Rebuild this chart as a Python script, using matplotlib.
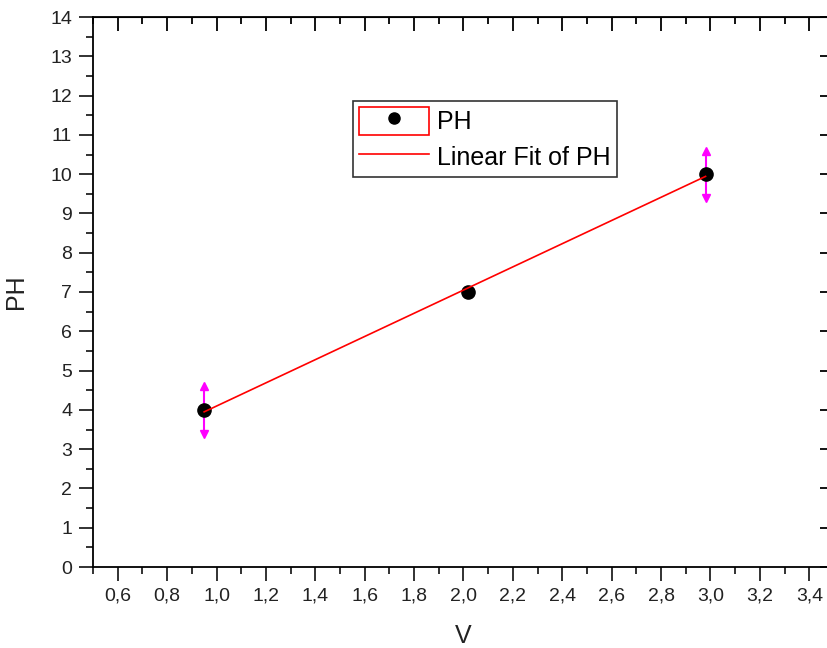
import numpy as np
import matplotlib.pyplot as plt
from matplotlib.ticker import MultipleLocator, FuncFormatter
from matplotlib.patches import Rectangle
from matplotlib.lines import Line2D
from matplotlib.legend_handler import HandlerTuple

plt.rcParams['font.family'] = ['Liberation Sans', 'DejaVu Sans']

# data
v = np.array([0.95, 2.02, 2.98])
ph = np.array([4.0, 7.0, 10.0])
ph_err = np.array([0.62, 0.0, 0.6])

fig = plt.figure(figsize=(8.27, 6.48), dpi=100)
ax = fig.add_axes([93/827, 1 - 567/648, 741/827, 550/648])

# error bars with arrow heads (Origin style)
ax.errorbar(v, ph, yerr=ph_err, fmt='none', ecolor='#ff00ff', elinewidth=1.5,
            capsize=0, zorder=2)
has_err = ph_err > 0
ax.plot(v[has_err], (ph + ph_err)[has_err], '^', color='#ff00ff', ms=6, zorder=2)
ax.plot(v[has_err], (ph - ph_err)[has_err], 'v', color='#ff00ff', ms=6, zorder=2)

ax.plot(v, ph, 'o', color='black', ms=9.5, zorder=3)

# linear fit
k, b = np.polyfit(v, ph, 1)
xf = np.array([v.min(), v.max()])
ax.plot(xf, k*xf + b, '-', color='red', lw=1.2, zorder=4)

ax.set_xlim(0.5, 3.5)
ax.set_ylim(0, 14)
ax.xaxis.set_major_locator(MultipleLocator(0.2))
ax.xaxis.set_minor_locator(MultipleLocator(0.1))
ax.yaxis.set_major_locator(MultipleLocator(1))
ax.yaxis.set_minor_locator(MultipleLocator(0.5))
ax.xaxis.set_major_formatter(FuncFormatter(
    lambda t, p: '' if t < 0.55 else f'{t:.1f}'.replace('.', ',')))
ax.yaxis.set_major_formatter(FuncFormatter(lambda t, p: f'{t:.0f}'))

ax.tick_params(which='both', direction='out', top=False, right=False,
               labelsize=14, width=1.3, colors='#222222')
ax.tick_params(which='major', length=10, pad=5)
ax.tick_params(which='minor', length=5)
for s in ax.spines.values():
    s.set_linewidth(1.3)

# inward ticks on top and right
sec_x = ax.secondary_xaxis('top')
sec_x.xaxis.set_major_locator(MultipleLocator(0.2))
sec_x.xaxis.set_minor_locator(MultipleLocator(0.1))
sec_x.tick_params(which='both', direction='in', labeltop=False, width=1.3)
sec_x.tick_params(which='major', length=10)
sec_x.tick_params(which='minor', length=5)
sec_y = ax.secondary_yaxis('right')
sec_y.yaxis.set_major_locator(MultipleLocator(1))
sec_y.yaxis.set_minor_locator(MultipleLocator(0.5))
sec_y.tick_params(which='both', direction='in', labelright=False, width=1.3)
sec_y.tick_params(which='major', length=10)
sec_y.tick_params(which='minor', length=5)

ax.set_xlabel('V', fontsize=18, labelpad=14, color='#222222')
ax.set_ylabel('PH', fontsize=18, labelpad=16, color='#222222')

h1 = (Rectangle((0, 0), 1, 1, facecolor='none', edgecolor='red', lw=1.2),
      Line2D([], [], marker='o', color='black', ls='none', ms=8))
h2 = Line2D([], [], color='red', lw=1.2)
leg = ax.legend([h1, h2], ['PH', 'Linear Fit of PH'],
                handler_map={tuple: HandlerTuple(ndivide=1)},
                loc='upper left', bbox_to_anchor=(0.351, 0.847),
                borderaxespad=0, fontsize=18, fancybox=False, framealpha=1,
                edgecolor='#333333', handlelength=2.8, handleheight=1.3,
                borderpad=0.25, labelspacing=0.35, handletextpad=0.3)
leg.get_frame().set_linewidth(1.2)

fig.savefig('out.png', dpi=100)
